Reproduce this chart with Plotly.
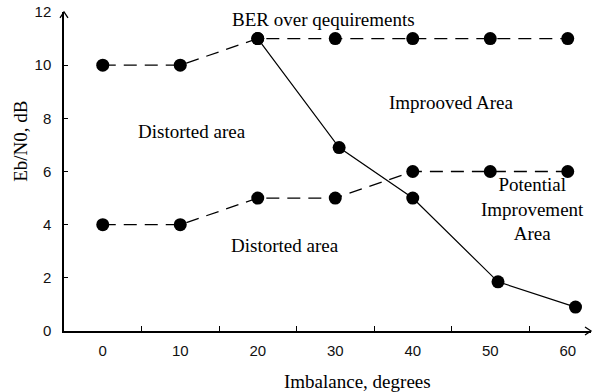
import plotly.graph_objects as go

# Eb/N0 requirement curves versus phase imbalance
imbalance = [0, 10, 20, 30, 40, 50, 60]
upper_limit = [10, 10, 11, 11, 11, 11, 11]
lower_limit = [4, 4, 5, 5, 6, 6, 6]

ber_x = [20, 30.5, 40, 51, 61]
ber_y = [11, 6.9, 5, 1.85, 0.9]

x_tick_vals = [0, 10, 20, 30, 40, 50, 60]
x_minor_vals = [5, 15, 25, 35, 45, 55]
y_tick_vals = [0, 2, 4, 6, 8, 10, 12]

SERIF = "Liberation Serif"
SANS = "Liberation Sans"
TXT = 19

fig = go.Figure()

for yy in (upper_limit, lower_limit):
    fig.add_trace(go.Scatter(
        x=imbalance, y=yy, mode="lines+markers",
        line=dict(color="black", width=1.3, dash="13px,8px"),
        marker=dict(color="black", size=13),
        showlegend=False, hoverinfo="skip",
    ))

fig.add_trace(go.Scatter(
    x=ber_x, y=ber_y, mode="lines+markers",
    line=dict(color="black", width=1.2),
    marker=dict(color="black", size=13),
    showlegend=False, hoverinfo="skip",
))

labels = [
    ("BER over qequirements", 28.5, 11.7),
    ("Improoved Area", 45, 8.6),
    ("Distorted area", 11.5, 7.5),
    ("Distorted area", 23.5, 3.2),
    ("Potential<br>Improvement<br>Area", 55.5, 4.6),
]
for text, x, y in labels:
    fig.add_annotation(
        x=x, y=y, text=text, showarrow=False,
        font=dict(family=SERIF, size=TXT, color="black"),
        xanchor="center", yanchor="middle",
    )

# axis titles
fig.add_annotation(
    x=-0.106, y=0.595, xref="paper", yref="paper", text="Eb/N0, dB",
    textangle=-90, showarrow=False,
    font=dict(family=SERIF, size=TXT, color="black"),
)
fig.add_annotation(
    x=0.557, y=-0.159, xref="paper", yref="paper", text="Imbalance, degrees",
    showarrow=False, yanchor="middle",
    font=dict(family=SERIF, size=TXT, color="black"),
)

# arrow heads on the axes
pw, ph = 594 - 64 - 3, 392 - 10 - 61
fig.add_shape(
    type="path", xref="paper", yref="paper",
    path=f"M {-4/pw} {1-6/ph} L 0 1 L {4/pw} {1-6/ph}",
    line=dict(color="black", width=1.3),
)
fig.add_shape(
    type="path", xref="paper", yref="paper",
    path=f"M {1-6/pw} {4/ph} L 1 0 L {1-6/pw} {-4/ph}",
    line=dict(color="black", width=1.3),
)

fig.update_xaxes(
    range=[-5, 63], showgrid=False, zeroline=False,
    showline=True, linecolor="black", linewidth=1.5,
    tickvals=x_tick_vals, ticktext=[str(v) for v in x_tick_vals],
    ticks="", ticklabelstandoff=5,
    minor=dict(tickvals=x_minor_vals, ticks="inside", ticklen=5,
               tickcolor="black", tickwidth=1),
    tickfont=dict(family=SANS, size=15, color="#111"),
)
fig.update_yaxes(
    range=[0, 12], showgrid=False, zeroline=False,
    showline=True, linecolor="black", linewidth=1.5,
    tickvals=y_tick_vals, ticktext=[str(v) for v in y_tick_vals],
    ticks="inside", ticklen=4, tickcolor="black", tickwidth=1,
    ticklabelstandoff=8,
    tickfont=dict(family=SANS, size=15, color="#111"),
)

fig.update_layout(
    width=594, height=392,
    margin=dict(l=64, r=3, t=10, b=61),
    paper_bgcolor="white", plot_bgcolor="white",
)

fig.write_html("out.html")
